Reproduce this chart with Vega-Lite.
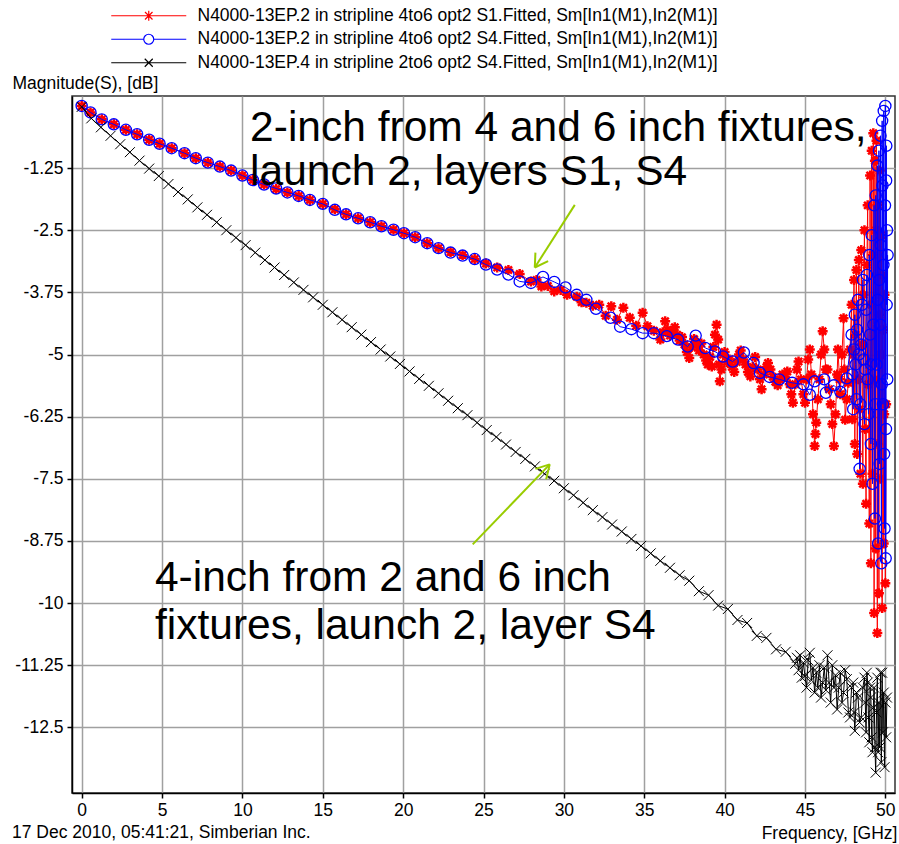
{
  "$schema": "https://vega.github.io/schema/vega-lite/v6.json",
  "width": 823,
  "height": 697,
  "autosize": {"type": "none"},
  "padding": {"left": 72, "top": 96, "right": 4, "bottom": 51},
  "background": "white",
  "title": {
    "text": "17 Dec 2010, 05:41:21, Simberian Inc.",
    "orient": "bottom",
    "anchor": "start",
    "frame": "group",
    "dx": -60,
    "offset": -4,
    "baseline": "alphabetic",
    "font": "Liberation Sans",
    "fontSize": 17.5,
    "fontWeight": "normal",
    "color": "#000000"
  },
  "config": {
    "view": {"stroke": "#333333", "strokeWidth": 1.5},
    "axis": {
      "labelFont": "Liberation Sans",
      "labelFontSize": 17.5,
      "labelColor": "#000000",
      "titleFont": "Liberation Sans",
      "titleFontSize": 17.5,
      "titleFontWeight": "normal",
      "titleColor": "#000000",
      "domainColor": "#000000",
      "domainWidth": 1.5,
      "tickColor": "#000000",
      "tickWidth": 1.5,
      "tickSize": 5,
      "gridColor": "#a0a0a0",
      "gridWidth": 1.5,
      "gridOpacity": 1
    }
  },
  "datasets": {
    "s1": [
      {"f":0,"d":0},{"f":0.55,"d":-0.13},{"f":1.25,"d":-0.27},{"f":2.0,"d":-0.37},{"f":2.75,"d":-0.48},{"f":3.45,"d":-0.57},{"f":4.2,"d":-0.68},{"f":4.85,"d":-0.76},{"f":5.6,"d":-0.85},{"f":6.4,"d":-0.95},{"f":7.1,"d":-1.05},{"f":7.85,"d":-1.14},{"f":8.6,"d":-1.22},{"f":9.3,"d":-1.3},{"f":10.0,"d":-1.4},{"f":10.65,"d":-1.49},{"f":11.35,"d":-1.58},{"f":12.1,"d":-1.67},{"f":12.8,"d":-1.74},{"f":13.5,"d":-1.81},{"f":14.2,"d":-1.89},{"f":15.0,"d":-1.97},{"f":15.75,"d":-2.08},{"f":16.45,"d":-2.18},{"f":17.2,"d":-2.26},{"f":17.95,"d":-2.34},{"f":18.65,"d":-2.42},{"f":19.4,"d":-2.49},{"f":20.05,"d":-2.56},{"f":20.75,"d":-2.64},{"f":21.5,"d":-2.76},{"f":22.2,"d":-2.86},{"f":22.95,"d":-2.94},{"f":23.7,"d":-3.0},{"f":24.45,"d":-3.08},{"f":25.15,"d":-3.17},{"f":25.85,"d":-3.25},{"f":26.55,"d":-3.3},{"f":27.25,"d":-3.38},{"f":27.95,"d":-3.53},
      {"f":28.3,"d":-3.5},{"f":28.6,"d":-3.63},{"f":29.0,"d":-3.62},{"f":29.4,"d":-3.73},{"f":29.8,"d":-3.7},{"f":30.2,"d":-3.8},{"f":30.8,"d":-3.84},{"f":31.1,"d":-3.95},{"f":31.4,"d":-3.96},{"f":31.8,"d":-4.02},{"f":32.2,"d":-4.0},{"f":32.6,"d":-4.22},{"f":32.95,"d":-4.03},{"f":33.3,"d":-4.3},{"f":33.7,"d":-4.06},{"f":34.1,"d":-4.26},{"f":34.5,"d":-4.42},{"f":34.9,"d":-4.16},{"f":35.2,"d":-4.43},{"f":35.6,"d":-4.52},
      {"f":36.0,"d":-4.7},{"f":36.15,"d":-4.55},{"f":36.3,"d":-4.33},{"f":36.45,"d":-4.5},{"f":36.6,"d":-4.62},{"f":36.75,"d":-4.55},{"f":36.9,"d":-4.45},{"f":37.05,"d":-4.6},{"f":37.2,"d":-4.72},{"f":37.35,"d":-4.65},{"f":37.5,"d":-4.8},{"f":37.65,"d":-4.95},{"f":37.8,"d":-5.07},{"f":37.95,"d":-4.85},{"f":38.1,"d":-4.69},{"f":38.25,"d":-4.8},{"f":38.4,"d":-4.92},{"f":38.55,"d":-4.78},{"f":38.7,"d":-5.0},{"f":38.85,"d":-5.12},{"f":38.95,"d":-5.2},{"f":39.1,"d":-5.05},{"f":39.2,"d":-5.24},{"f":39.3,"d":-4.85},{"f":39.4,"d":-4.6},{"f":39.5,"d":-4.4},{"f":39.6,"d":-4.7},{"f":39.65,"d":-5.2},{"f":39.7,"d":-5.54},{"f":39.8,"d":-5.3},{"f":39.9,"d":-5.0},{"f":40.0,"d":-4.95},{"f":40.15,"d":-5.15},{"f":40.3,"d":-5.1},{"f":40.45,"d":-5.25},{"f":40.6,"d":-5.35},{"f":40.75,"d":-5.15},{"f":40.9,"d":-5.0},{"f":41.0,"d":-4.92},{"f":41.15,"d":-5.1},{"f":41.3,"d":-5.2},{"f":41.45,"d":-5.35},{"f":41.6,"d":-5.44},{"f":41.75,"d":-5.25},{"f":41.9,"d":-5.05},{"f":42.05,"d":-5.3},{"f":42.2,"d":-5.5},{"f":42.3,"d":-5.7},{"f":42.45,"d":-5.4},{"f":42.6,"d":-5.25},{"f":42.7,"d":-5.17},{"f":42.85,"d":-5.3},{"f":43.0,"d":-5.45},{"f":43.15,"d":-5.55},{"f":43.3,"d":-5.62},{"f":43.45,"d":-5.5},{"f":43.6,"d":-5.4},{"f":43.75,"d":-5.45},{"f":43.9,"d":-5.34},{"f":44.05,"d":-5.6},{"f":44.15,"d":-5.8},{"f":44.25,"d":-5.97},{"f":44.4,"d":-5.6},{"f":44.5,"d":-5.3},{"f":44.6,"d":-5.14},{"f":44.75,"d":-5.5},{"f":44.9,"d":-5.8},{"f":45.0,"d":-5.97},{"f":45.1,"d":-5.5},{"f":45.2,"d":-5.1},{"f":45.3,"d":-4.9},{"f":45.4,"d":-5.4},{"f":45.5,"d":-6.2},{"f":45.6,"d":-6.84},{"f":45.65,"d":-6.6},{"f":45.7,"d":-6.37},{"f":45.8,"d":-5.9},{"f":45.9,"d":-5.5},{"f":46.0,"d":-5.0},{"f":46.1,"d":-4.53},{"f":46.2,"d":-4.9},{"f":46.3,"d":-5.3},{"f":46.4,"d":-5.3},{"f":46.5,"d":-5.7},{"f":46.6,"d":-6.0},{"f":46.7,"d":-6.4},{"f":46.8,"d":-6.84},{"f":46.9,"d":-6.2},{"f":47.0,"d":-5.4},{"f":47.05,"d":-4.9},{"f":47.15,"d":-5.5},{"f":47.2,"d":-5.8},{"f":47.3,"d":-5.0},{"f":47.4,"d":-4.27},{"f":47.45,"d":-5.3},{"f":47.5,"d":-6.31},{"f":47.6,"d":-5.9},{"f":47.7,"d":-5.57},{"f":47.8,"d":-4.9},
      {"f":47.9,"d":-4.0},{"f":47.95,"d":-6.3},{"f":48.0,"d":-5.0},{"f":48.05,"d":-3.5},{"f":48.1,"d":-6.8},{"f":48.15,"d":-4.6},{"f":48.2,"d":-3.3},{"f":48.25,"d":-7.0},{"f":48.3,"d":-5.5},{"f":48.35,"d":-3.1},{"f":48.4,"d":-6.1},{"f":48.45,"d":-7.4},{"f":48.5,"d":-2.9},{"f":48.55,"d":-4.8},{"f":48.6,"d":-7.6},{"f":48.65,"d":-3.8},{"f":48.7,"d":-2.5},{"f":48.75,"d":-6.5},{"f":48.8,"d":-8.0},{"f":48.85,"d":-3.2},{"f":48.9,"d":-2.0},{"f":48.95,"d":-5.6},{"f":49.0,"d":-8.4},{"f":49.05,"d":-1.4},{"f":49.1,"d":-9.2},{"f":49.13,"d":-4.0},{"f":49.15,"d":-0.9},{"f":49.2,"d":-7.4},{"f":49.22,"d":-3.0},{"f":49.25,"d":-0.55},{"f":49.3,"d":-10.2},{"f":49.33,"d":-5.5},{"f":49.35,"d":-1.1},{"f":49.4,"d":-8.9},{"f":49.42,"d":-2.5},{"f":49.45,"d":-0.7},{"f":49.5,"d":-10.6},{"f":49.52,"d":-6.8},{"f":49.55,"d":-2.0},{"f":49.6,"d":-9.8},{"f":49.62,"d":-4.2},{"f":49.65,"d":-1.3},{"f":49.7,"d":-7.5},{"f":49.72,"d":-5.0},{"f":49.75,"d":-2.6},{"f":49.8,"d":-10.1},{"f":49.83,"d":-3.4},{"f":49.85,"d":-4.5},{"f":49.9,"d":-8.8},{"f":49.93,"d":-6.2},{"f":49.95,"d":-3.8},{"f":50.0,"d":-9.6},{"f":50.05,"d":-6.0}
    ],
    "s4": [
      {"f":0,"d":0},{"f":0.55,"d":-0.13},{"f":1.25,"d":-0.27},{"f":2.0,"d":-0.37},{"f":2.75,"d":-0.48},{"f":3.45,"d":-0.57},{"f":4.2,"d":-0.68},{"f":4.85,"d":-0.76},{"f":5.6,"d":-0.85},{"f":6.4,"d":-0.95},{"f":7.1,"d":-1.05},{"f":7.85,"d":-1.14},{"f":8.6,"d":-1.22},{"f":9.3,"d":-1.3},{"f":10.0,"d":-1.4},{"f":10.65,"d":-1.49},{"f":11.35,"d":-1.58},{"f":12.1,"d":-1.66},{"f":12.8,"d":-1.74},{"f":13.5,"d":-1.81},{"f":14.2,"d":-1.89},{"f":15.0,"d":-1.97},{"f":15.75,"d":-2.09},{"f":16.45,"d":-2.18},{"f":17.2,"d":-2.26},{"f":17.95,"d":-2.34},{"f":18.65,"d":-2.42},{"f":19.4,"d":-2.49},{"f":20.05,"d":-2.56},{"f":20.75,"d":-2.64},{"f":21.5,"d":-2.76},{"f":22.2,"d":-2.86},{"f":22.95,"d":-2.95},{"f":23.7,"d":-3.01},{"f":24.45,"d":-3.08},{"f":25.15,"d":-3.19},{"f":25.85,"d":-3.29},{"f":26.55,"d":-3.39},{"f":27.25,"d":-3.53},{"f":27.95,"d":-3.56},
      {"f":28.7,"d":-3.44},{"f":29.4,"d":-3.54},{"f":30.1,"d":-3.65},{"f":30.8,"d":-3.8},{"f":31.4,"d":-3.9},{"f":32.0,"d":-4.08},{"f":32.9,"d":-4.26},{"f":33.5,"d":-4.44},{"f":34.2,"d":-4.49},{"f":34.9,"d":-4.57},{"f":35.6,"d":-4.57},{"f":36.4,"d":-4.63},{"f":37.1,"d":-4.7},{"f":37.7,"d":-4.84},{"f":38.2,"d":-4.62},{"f":38.8,"d":-4.87},{"f":39.4,"d":-4.94},{"f":39.9,"d":-5.04},{"f":40.5,"d":-5.14},{"f":41.2,"d":-4.96},{"f":41.8,"d":-5.17},{"f":42.2,"d":-5.37},{"f":42.8,"d":-5.45},{"f":43.4,"d":-5.5},{"f":44.2,"d":-5.57},{"f":44.9,"d":-5.6},{"f":45.3,"d":-5.81},{"f":45.6,"d":-5.54},{"f":46.2,"d":-5.5},{"f":46.3,"d":-5.77},{"f":46.8,"d":-5.62},{"f":47.2,"d":-5.75},{"f":47.6,"d":-5.48},
      {"f":47.9,"d":-4.6},{"f":47.95,"d":-5.4},{"f":48.0,"d":-6.1},{"f":48.05,"d":-4.9},{"f":48.1,"d":-4.2},{"f":48.15,"d":-5.2},{"f":48.2,"d":-5.9},{"f":48.25,"d":-4.5},{"f":48.3,"d":-3.9},{"f":48.35,"d":-5.0},{"f":48.4,"d":-7.3},{"f":48.45,"d":-6.0},{"f":48.5,"d":-4.8},{"f":48.55,"d":-4.0},{"f":48.6,"d":-3.5},{"f":48.65,"d":-5.1},{"f":48.7,"d":-6.4},{"f":48.75,"d":-5.3},{"f":48.8,"d":-4.1},{"f":48.85,"d":-3.4},{"f":48.9,"d":-5.5},{"f":48.95,"d":-6.2},{"f":49.0,"d":-3.0},{"f":49.05,"d":-4.6},{"f":49.1,"d":-6.8},{"f":49.12,"d":-5.2},{"f":49.15,"d":-2.6},{"f":49.2,"d":-7.6},{"f":49.25,"d":-4.4},{"f":49.3,"d":-2.0},{"f":49.35,"d":-8.3},{"f":49.38,"d":-6.0},{"f":49.4,"d":-1.8},{"f":49.45,"d":-5.2},{"f":49.5,"d":-1.2},{"f":49.52,"d":-3.9},{"f":49.55,"d":-8.8},{"f":49.6,"d":-0.9},{"f":49.62,"d":-3.5},{"f":49.65,"d":-7.2},{"f":49.68,"d":-4.4},{"f":49.7,"d":-0.6},{"f":49.72,"d":-2.8},{"f":49.75,"d":-9.2},{"f":49.78,"d":-5.6},{"f":49.8,"d":-0.3},{"f":49.82,"d":-1.6},{"f":49.85,"d":-6.0},{"f":49.88,"d":-3.2},{"f":49.9,"d":-0.1},{"f":49.92,"d":-7.0},{"f":49.95,"d":-8.5},{"f":49.98,"d":-2.0},{"f":50.0,"d":0.0},{"f":50.02,"d":-9.1},{"f":50.04,"d":-6.5},{"f":50.05,"d":-1.5},{"f":50.06,"d":-0.8},{"f":50.08,"d":-4.0},{"f":50.1,"d":-2.5},{"f":50.12,"d":-5.5},{"f":50.14,"d":-3.0}
    ],
    "l4": [
      {"f":0,"d":-0.02},{"f":0.6,"d":-0.25},{"f":1.2,"d":-0.43},{"f":1.8,"d":-0.6},{"f":2.4,"d":-0.77},{"f":3.0,"d":-0.93},{"f":3.6,"d":-1.1},{"f":4.2,"d":-1.26},{"f":4.8,"d":-1.41},{"f":5.4,"d":-1.57},{"f":6.0,"d":-1.73},{"f":6.6,"d":-1.88},{"f":7.2,"d":-2.04},{"f":7.8,"d":-2.19},{"f":8.4,"d":-2.34},{"f":9.0,"d":-2.5},{"f":9.6,"d":-2.65},{"f":10.2,"d":-2.8},{"f":10.8,"d":-2.95},{"f":11.4,"d":-3.1},{"f":12.0,"d":-3.25},{"f":12.6,"d":-3.4},{"f":13.2,"d":-3.55},{"f":13.8,"d":-3.7},{"f":14.4,"d":-3.85},{"f":15.0,"d":-4.0},{"f":15.6,"d":-4.15},{"f":16.2,"d":-4.3},{"f":16.8,"d":-4.45},{"f":17.4,"d":-4.6},{"f":18.0,"d":-4.75},{"f":18.6,"d":-4.9},{"f":19.2,"d":-5.04},{"f":19.8,"d":-5.19},{"f":20.4,"d":-5.34},{"f":21.0,"d":-5.49},{"f":21.6,"d":-5.63},{"f":22.2,"d":-5.78},{"f":22.8,"d":-5.93},{"f":23.4,"d":-6.08},{"f":24.0,"d":-6.22},{"f":24.6,"d":-6.37},{"f":25.2,"d":-6.52},{"f":25.8,"d":-6.66},{"f":26.4,"d":-6.81},{"f":27.0,"d":-6.96},{"f":27.6,"d":-7.1},{"f":28.2,"d":-7.25},{"f":28.8,"d":-7.4},{"f":29.4,"d":-7.54},{"f":30.0,"d":-7.69},{"f":30.6,"d":-7.83},{"f":31.2,"d":-7.98},{"f":31.8,"d":-8.13},{"f":32.4,"d":-8.27},{"f":33.0,"d":-8.42},{"f":33.6,"d":-8.56},{"f":34.2,"d":-8.71},{"f":34.8,"d":-8.85},{"f":35.4,"d":-9.0},{"f":36.0,"d":-9.15},{"f":36.6,"d":-9.29},{"f":37.2,"d":-9.44},{"f":37.8,"d":-9.55},{"f":38.4,"d":-9.76},{"f":39.0,"d":-9.84},{"f":39.6,"d":-10.05},{"f":40.2,"d":-10.12},{"f":40.8,"d":-10.34},{"f":41.4,"d":-10.4},{"f":42.0,"d":-10.66},{"f":42.6,"d":-10.7},{"f":43.2,"d":-10.93},{"f":43.8,"d":-10.98},{"f":44.4,"d":-11.22},
      {"f":44.5,"d":-11.1},{"f":44.6,"d":-11.35},{"f":44.7,"d":-11.05},{"f":44.8,"d":-11.5},{"f":44.9,"d":-11.2},{"f":45.0,"d":-11.47},{"f":45.1,"d":-11.7},{"f":45.2,"d":-11.15},{"f":45.3,"d":-11.0},{"f":45.4,"d":-11.55},{"f":45.5,"d":-11.3},{"f":45.6,"d":-11.8},{"f":45.7,"d":-11.4},{"f":45.8,"d":-11.7},{"f":45.9,"d":-11.25},{"f":46.0,"d":-11.9},{"f":46.1,"d":-11.6},{"f":46.2,"d":-11.3},{"f":46.3,"d":-11.75},{"f":46.4,"d":-11.05},{"f":46.5,"d":-11.6},{"f":46.6,"d":-12.0},{"f":46.7,"d":-11.25},{"f":46.8,"d":-11.7},{"f":46.9,"d":-11.45},{"f":47.0,"d":-12.14},{"f":47.1,"d":-11.7},{"f":47.2,"d":-11.4},{"f":47.3,"d":-12.0},{"f":47.4,"d":-11.8},{"f":47.5,"d":-11.35},{"f":47.6,"d":-11.53},{"f":47.7,"d":-12.2},{"f":47.8,"d":-12.3},{"f":47.9,"d":-11.7},{"f":48.0,"d":-11.6},{"f":48.05,"d":-12.2},{"f":48.1,"d":-12.57},{"f":48.2,"d":-11.8},{"f":48.3,"d":-11.9},{"f":48.4,"d":-12.4},{"f":48.5,"d":-12.3},{"f":48.6,"d":-11.7},{"f":48.7,"d":-11.5},{"f":48.75,"d":-12.0},{"f":48.8,"d":-12.6},{"f":48.85,"d":-11.4},{"f":48.9,"d":-11.6},{"f":48.95,"d":-12.3},{"f":49.0,"d":-12.8},{"f":49.05,"d":-11.7},{"f":49.1,"d":-11.9},{"f":49.15,"d":-12.7},{"f":49.2,"d":-13.0},{"f":49.25,"d":-12.1},{"f":49.3,"d":-11.7},{"f":49.35,"d":-12.9},{"f":49.4,"d":-13.41},{"f":49.45,"d":-12.2},{"f":49.5,"d":-11.5},{"f":49.55,"d":-13.0},{"f":49.6,"d":-12.0},{"f":49.65,"d":-12.9},{"f":49.7,"d":-11.4},{"f":49.75,"d":-13.2},{"f":49.8,"d":-11.4},{"f":49.85,"d":-12.6},{"f":49.9,"d":-11.8},{"f":49.95,"d":-13.3},{"f":50.0,"d":-12.0},{"f":50.05,"d":-12.7},{"f":50.1,"d":-11.9}
    ],
    "notes": [
      {"f":10.48,"d":-0.7,"t":"2-inch from 4 and 6 inch fixtures,"},
      {"f":10.48,"d":-1.59,"t":"launch 2, layers S1, S4"},
      {"f":4.56,"d":-9.76,"t":"4-inch from 2 and 6 inch"},
      {"f":4.56,"d":-10.73,"t":"fixtures, launch 2, layer S4"}
    ],
    "arrows": [
      {"f":30.68,"d":-1.99,"f2":28.19,"d2":-3.25},
      {"f":29.02,"d":-3.12,"f2":28.19,"d2":-3.25},
      {"f":28.23,"d":-2.95,"f2":28.19,"d2":-3.25},
      {"f":24.33,"d":-8.82,"f2":29.12,"d2":-7.21},
      {"f":28.23,"d":-7.3,"f2":29.12,"d2":-7.21},
      {"f":28.9,"d":-7.51,"f2":29.12,"d2":-7.21}
    ]
  },
  "encoding": {
    "x": {
      "field": "f",
      "type": "quantitative",
      "scale": {"domain": [-0.6, 50.6], "nice": false, "zero": false},
      "axis": {
        "values": [0, 5, 10, 15, 20, 25, 30, 35, 40, 45, 50],
        "labelExpr": "'' + datum.value",
        "labelPadding": 3,
        "title": "Frequency, [GHz]",
        "titleX": 825,
        "titleY": 45,
        "titleAlign": "right",
        "titleBaseline": "alphabetic"
      }
    },
    "y": {
      "field": "d",
      "type": "quantitative",
      "scale": {"domain": [-13.82, 0.2], "nice": false, "zero": false},
      "axis": {
        "values": [-1.25, -2.5, -3.75, -5, -6.25, -7.5, -8.75, -10, -11.25, -12.5],
        "labelExpr": "'' + datum.value",
        "labelPadding": 4,
        "title": "Magnitude(S), [dB]",
        "titleAngle": 0,
        "titleX": -60,
        "titleY": -8,
        "titleAlign": "left",
        "titleBaseline": "alphabetic"
      }
    }
  },
  "layer": [
    {
      "data": {"name": "s1"},
      "mark": {"type": "line", "strokeWidth": 1, "clip": true},
      "encoding": {
        "color": {
          "datum": "S1",
          "scale": {"domain": ["S1", "S4", "L4"], "range": ["#ff0000", "#0000ff", "#000000"]},
          "legend": {
            "title": null,
            "orient": "none",
            "legendX": 68,
            "legendY": -89,
            "padding": 0,
            "rowPadding": 4.5,
            "symbolSize": 100,
            "labelOffset": 40,
            "labelFont": "Liberation Sans",
            "labelFontSize": 17.5,
            "labelColor": "#000000",
            "labelLimit": 700,
            "labelExpr": "datum.value == 'S1' ? 'N4000-13EP.2 in stripline 4to6 opt2 S1.Fitted, Sm[In1(M1),In2(M1)]' : datum.value == 'S4' ? 'N4000-13EP.2 in stripline 4to6 opt2 S4.Fitted, Sm[In1(M1),In2(M1)]' : 'N4000-13EP.4 in stripline 2to6 opt2 S4.Fitted, Sm[In1(M1),In2(M1)]'",
            "encode": {
              "symbols": {
                "update": {
                  "shape": {"signal": "datum.value == 'S1' ? 'M-7.5,0H7.5M0,-1V1M-0.75,-0.75L0.75,0.75M-0.75,0.75L0.75,-0.75M-0.4,0H0.4M0,-0.4V0.4' : datum.value == 'S4' ? 'M-7.5,0H-1M1,0H7.5M-1,0A1,1 0 1,1 1,0A1,1 0 1,1 -1,0' : 'M-7.5,0H7.5M-0.8,-0.8L0.8,0.8M-0.8,0.8L0.8,-0.8'"},
                  "fill": {"value": "transparent"},
                  "strokeWidth": {"value": 1.2},
                  "size": {"value": 100}
                }
              }
            }
          }
        }
      }
    },
    {
      "data": {"name": "s1"},
      "mark": {"type": "point", "shape": "M-1,0H1M0,-1V1M-0.72,-0.72L0.72,0.72M-0.72,0.72L0.72,-0.72", "size": 100, "filled": false, "strokeWidth": 2.5, "opacity": 1, "clip": true},
      "encoding": {"color": {"datum": "S1"}}
    },
    {
      "data": {"name": "s4"},
      "mark": {"type": "line", "strokeWidth": 1, "clip": true},
      "encoding": {"color": {"datum": "S4"}}
    },
    {
      "data": {"name": "s4"},
      "mark": {"type": "point", "shape": "circle", "size": 125, "filled": false, "strokeWidth": 1.3, "opacity": 1, "clip": true},
      "encoding": {"color": {"datum": "S4"}}
    },
    {
      "data": {"name": "l4"},
      "mark": {"type": "line", "strokeWidth": 1, "clip": true},
      "encoding": {"color": {"datum": "L4"}}
    },
    {
      "data": {"name": "l4"},
      "mark": {"type": "point", "shape": "M-1,-1L1,1M-1,1L1,-1", "size": 100, "filled": false, "strokeWidth": 1, "opacity": 1, "clip": true},
      "encoding": {"color": {"datum": "L4"}}
    },
    {
      "data": {"name": "arrows"},
      "mark": {"type": "rule", "color": "#99cc00", "strokeWidth": 2},
      "encoding": {
        "x2": {"field": "f2"},
        "y2": {"field": "d2"}
      }
    },
    {
      "data": {"name": "notes"},
      "mark": {"type": "text", "align": "left", "baseline": "alphabetic", "font": "Liberation Sans", "fontSize": 42.5, "color": "#000000"},
      "encoding": {"text": {"field": "t"}}
    }
  ]
}
